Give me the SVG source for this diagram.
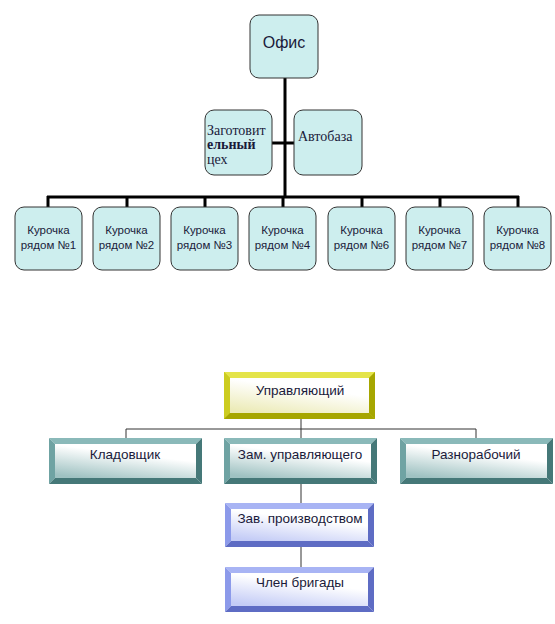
<svg xmlns="http://www.w3.org/2000/svg" width="555" height="624" viewBox="0 0 555 624">
<defs>
<style>
.rb{fill:#cdeeee;stroke:#333;stroke-width:1}
.ser{font-family:"Liberation Serif","Times New Roman",serif;fill:#1a1a3a}
.san{font-family:"Liberation Sans",Arial,sans-serif;fill:#1a1a3a}
.thick{stroke:#000;stroke-width:3;fill:none}
.thin{stroke:#333;stroke-width:1;fill:none}
.tl{fill:#8ab9b9}.tm{fill:#6fa3a3}.td{fill:#457878}
.yl{fill:#e4e44a}.ym{fill:#cccc20}.yd{fill:#a6a600}
.bl{fill:#a8b4f4}.bm{fill:#8c9aea}.bd{fill:#5e6cc4}
</style>
<linearGradient id="gt" x1="0.7" y1="0" x2="0.2" y2="1">
<stop offset="0.3" stop-color="#ffffff"/><stop offset="1" stop-color="#9fc2c2"/>
</linearGradient>
<linearGradient id="gy" x1="0.7" y1="0" x2="0.2" y2="1">
<stop offset="0.3" stop-color="#ffffff"/><stop offset="1" stop-color="#ecebb8"/>
</linearGradient>
<linearGradient id="gb" x1="0.7" y1="0" x2="0.2" y2="1">
<stop offset="0.3" stop-color="#ffffff"/><stop offset="1" stop-color="#c4ccf6"/>
</linearGradient>
</defs>
<rect width="555" height="624" fill="#fff"/>

<g id="connectors">
<path class="thick" d="M285,78 V197 M272,143 H294 M47,197 H519 M48,196 V207 M127,196 V207 M205,196 V207 M283,196 V207 M362,196 V207 M440,196 V207 M518,196 V207"/>
<path class="thin" d="M301,419 V429 M126,429 H476 M126,429 V438 M301,429 V438 M476,429 V438 M301,484 V503 M301,547 V567"/>
</g>

<g id="office"><rect class="rb" x="250" y="15" width="68" height="63" rx="9"/><text class="san" x="284" y="48" font-size="16" text-anchor="middle">Офис</text></g>
<g id="zagot"><rect class="rb" x="205" y="110" width="67" height="65" rx="9"/><text class="ser" font-size="14"><tspan x="207" y="135">Заготовит</tspan><tspan x="207" y="149" font-weight="bold">ельный</tspan><tspan x="207" y="164">цех</tspan></text></g>
<g id="avtobaza"><rect class="rb" x="294" y="110" width="68" height="65" rx="9"/><text class="ser" x="298" y="141" font-size="14">Автобаза</text></g>

<g id="k1"><rect class="rb" x="15" y="207" width="67" height="63" rx="9"/><text class="san" font-size="11.5" text-anchor="middle"><tspan x="48.5" y="234">Курочка</tspan><tspan x="48.5" y="249">рядом №1</tspan></text></g>
<g id="k2"><rect class="rb" x="93" y="207" width="67" height="63" rx="9"/><text class="san" font-size="11.5" text-anchor="middle"><tspan x="126.5" y="234">Курочка</tspan><tspan x="126.5" y="249">рядом №2</tspan></text></g>
<g id="k3"><rect class="rb" x="171" y="207" width="67" height="63" rx="9"/><text class="san" font-size="11.5" text-anchor="middle"><tspan x="204.5" y="234">Курочка</tspan><tspan x="204.5" y="249">рядом №3</tspan></text></g>
<g id="k4"><rect class="rb" x="249" y="207" width="67" height="63" rx="9"/><text class="san" font-size="11.5" text-anchor="middle"><tspan x="282.5" y="234">Курочка</tspan><tspan x="282.5" y="249">рядом №4</tspan></text></g>
<g id="k6"><rect class="rb" x="328" y="207" width="67" height="63" rx="9"/><text class="san" font-size="11.5" text-anchor="middle"><tspan x="361.5" y="234">Курочка</tspan><tspan x="361.5" y="249">рядом №6</tspan></text></g>
<g id="k7"><rect class="rb" x="406" y="207" width="67" height="63" rx="9"/><text class="san" font-size="11.5" text-anchor="middle"><tspan x="439.5" y="234">Курочка</tspan><tspan x="439.5" y="249">рядом №7</tspan></text></g>
<g id="k8"><rect class="rb" x="484" y="207" width="67" height="63" rx="9"/><text class="san" font-size="11.5" text-anchor="middle"><tspan x="517.5" y="234">Курочка</tspan><tspan x="517.5" y="249">рядом №8</tspan></text></g>

<g id="upr">
<rect class="ym" x="224" y="372" width="151" height="47"/>
<polygon class="yl" points="224,372 375,372 369,378 230,378"/>
<polygon class="ym" points="224,372 230,378 230,413 224,419"/>
<polygon class="yd" points="375,372 375,419 369,413 369,378"/>
<polygon class="yd" points="224,419 375,419 369,413 230,413"/>
<rect x="230" y="378" width="139" height="35" fill="url(#gy)"/>
<text class="san" x="300" y="395" font-size="13.5" text-anchor="middle">Управляющий</text>
</g>

<g id="klad">
<polygon class="tl" points="49,438 202,438 196,444 55,444"/>
<polygon class="tm" points="49,438 55,444 55,478 49,484"/>
<polygon class="td" points="202,438 202,484 196,478 196,444"/>
<polygon class="td" points="49,484 202,484 196,478 55,478"/>
<rect x="55" y="444" width="141" height="34" fill="url(#gt)"/>
<text class="san" x="125" y="459" font-size="13.5" text-anchor="middle">Кладовщик</text>
</g>

<g id="zam">
<polygon class="tl" points="224,438 377,438 371,444 230,444"/>
<polygon class="tm" points="224,438 230,444 230,478 224,484"/>
<polygon class="td" points="377,438 377,484 371,478 371,444"/>
<polygon class="td" points="224,484 377,484 371,478 230,478"/>
<rect x="230" y="444" width="141" height="34" fill="url(#gt)"/>
<text class="san" x="300" y="459" font-size="13.5" text-anchor="middle">Зам. управляющего</text>
</g>

<g id="razno">
<polygon class="tl" points="400,438 553,438 547,444 406,444"/>
<polygon class="tm" points="400,438 406,444 406,478 400,484"/>
<polygon class="td" points="553,438 553,484 547,478 547,444"/>
<polygon class="td" points="400,484 553,484 547,478 406,478"/>
<rect x="406" y="444" width="141" height="34" fill="url(#gt)"/>
<text class="san" x="476" y="459" font-size="13.5" text-anchor="middle">Разнорабочий</text>
</g>

<g id="zav">
<polygon class="bl" points="225,503 374,503 368,509 231,509"/>
<polygon class="bm" points="225,503 231,509 231,541 225,547"/>
<polygon class="bd" points="374,503 374,547 368,541 368,509"/>
<polygon class="bd" points="225,547 374,547 368,541 231,541"/>
<rect x="231" y="509" width="137" height="32" fill="url(#gb)"/>
<text class="san" x="300" y="523" font-size="13.5" text-anchor="middle">Зав. производством</text>
</g>

<g id="chlen">
<polygon class="bl" points="225,567 374,567 368,573 231,573"/>
<polygon class="bm" points="225,567 231,573 231,606 225,612"/>
<polygon class="bd" points="374,567 374,612 368,606 368,573"/>
<polygon class="bd" points="225,612 374,612 368,606 231,606"/>
<rect x="231" y="573" width="137" height="33" fill="url(#gb)"/>
<text class="san" x="300" y="587" font-size="13.5" text-anchor="middle">Член бригады</text>
</g>
</svg>
